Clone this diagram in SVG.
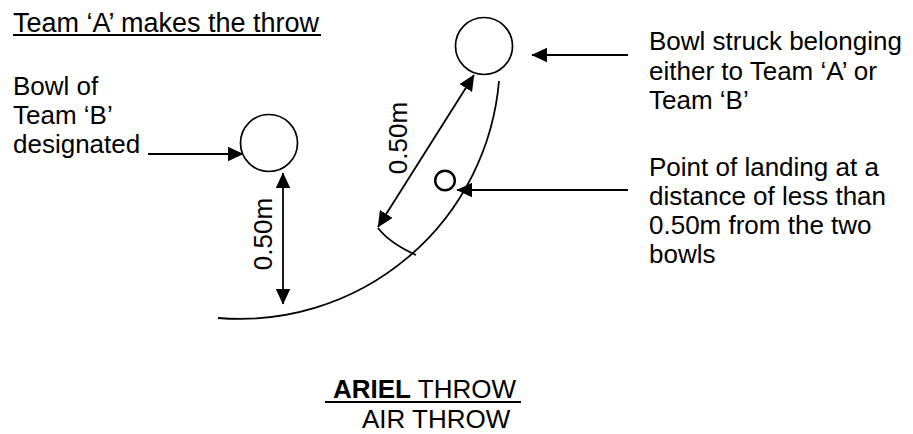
<svg xmlns="http://www.w3.org/2000/svg" width="913" height="434" viewBox="0 0 913 434">
<style>
text{font-family:"Liberation Sans",Arial,sans-serif;font-size:26px;fill:#000}
.t{font-size:27px}
.b{font-weight:bold}
.ln{stroke:#000;stroke-width:1.8;fill:none}
.bowl{stroke:#000;stroke-width:1.7;fill:#fff}
</style>
<defs>
<marker id="ah" markerUnits="userSpaceOnUse" markerWidth="16" markerHeight="15" viewBox="0 0 15 14" refX="14.5" refY="7" orient="auto-start-reverse">
<path d="M0,0 L15,7 L0,14 z" fill="#000"/>
</marker>
</defs>
<rect width="913" height="434" fill="#fff"/>
<g id="title">
<text class="t" x="13" y="31.5">Team ‘A’ makes the throw</text>
<line x1="13" y1="35" x2="321" y2="35" stroke="#000" stroke-width="2"/>
</g>
<g id="track">
<path class="ln" d="M218,318 A260,260 0 0 0 499,81"/>
<path class="ln" d="M378,228 Q389.5,243 416,255"/>
</g>
<g id="bowl-b">
<circle class="bowl" cx="269" cy="143" r="28.5"/>
</g>
<g id="bowl-struck">
<circle class="bowl" cx="484" cy="46" r="28.5"/>
</g>
<g id="landing-point">
<circle cx="445" cy="180.5" r="9.8" fill="none" stroke="#000" stroke-width="2.4"/>
</g>
<g id="connectors">
<line class="ln" x1="148" y1="154" x2="243" y2="154" marker-end="url(#ah)"/>
<line class="ln" x1="283" y1="173" x2="283" y2="304" marker-start="url(#ah)" marker-end="url(#ah)"/>
<line class="ln" x1="378" y1="227" x2="474" y2="75" marker-start="url(#ah)" marker-end="url(#ah)"/>
<line class="ln" x1="628" y1="55" x2="532" y2="55" marker-end="url(#ah)"/>
<line class="ln" x1="628" y1="190" x2="457" y2="190" marker-end="url(#ah)"/>
</g>
<g id="label-left">
<text x="13" y="95">Bowl of</text>
<text x="13" y="124">Team ‘B’</text>
<text x="13" y="153">designated</text>
</g>
<g id="dim-labels">
<text transform="translate(272,234) rotate(-90)" text-anchor="middle">0.50m</text>
<text transform="translate(407,138) rotate(-90)" text-anchor="middle">0.50m</text>
</g>
<g id="label-struck">
<text x="649" y="50">Bowl struck belonging</text>
<text x="649" y="79.5">either to Team ‘A’ or</text>
<text x="649" y="109">Team ‘B’</text>
</g>
<g id="label-landing">
<text x="649" y="176">Point of landing at a</text>
<text x="649" y="205">distance of less than</text>
<text x="649" y="234">0.50m from the two</text>
<text x="649" y="263">bowls</text>
</g>
<g id="caption">
<text x="333" y="398"><tspan class="b">ARIEL</tspan> THROW</text>
<line x1="325" y1="402" x2="521" y2="402" stroke="#000" stroke-width="2"/>
<text x="362" y="428">AIR THROW</text>
</g>
</svg>
